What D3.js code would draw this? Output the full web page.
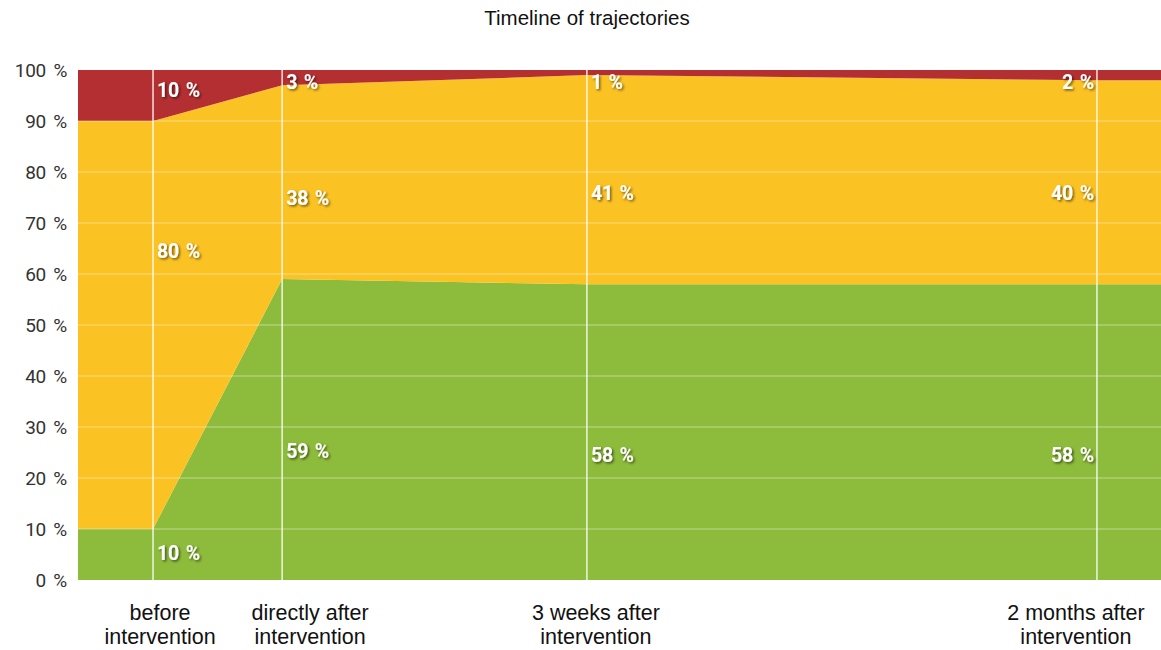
<!DOCTYPE html>
<html lang="en">
<head>
<meta charset="utf-8">
<title>Timeline of trajectories</title>
<script src="https://d3js.org/d3.v7.min.js"></script>
<style>
  body { margin: 0; background: #fff; }
  .tick-y { font-family: Roboto, sans-serif; font-size: 19px; fill: #333; word-spacing: 3px; letter-spacing: -0.3px; }
  .tick-x { font-family: "Liberation Sans", Arial, sans-serif; font-size: 21.5px; fill: #111; }
  .title { font-family: "Liberation Sans", Arial, sans-serif; font-size: 20.5px; fill: #111; }
  .val { font-family: Roboto, sans-serif; font-weight: bold; font-size: 19.5px; fill: #fff; word-spacing: 2px; letter-spacing: -0.2px; }
</style>
</head>
<body>
<script>
// stages and where they sit on the timeline (in stage units)
const stages = ["before\nintervention", "directly after\nintervention", "3 weeks after\nintervention", "2 months after\nintervention"];
const stageAt = [0, 1, 3.36, 7.31];

const green = [10, 59, 58, 58];
const yellow = [80, 38, 41, 40];
const red = [10, 3, 1, 2];

const yTicks = [0, 10, 20, 30, 40, 50, 60, 70, 80, 90, 100];

// where each value label is anchored, in percent
const greenLabelAt = [5.3, 25.3, 24.5, 24.5];
const yellowLabelAt = [64.5, 74.9, 75.9, 75.9];
const redLabelAt = [96, 97.6, 97.6, 97.6];

const width = 1161, height = 650;
const mLeft = 78, mRight = 1161, mTop = 70, mBottom = 580;

const svg = d3.select("body").append("svg")
  .attr("width", width)
  .attr("height", height);

const defs = svg.append("defs");
const f = defs.append("filter").attr("id", "shadow").attr("x", "-20%").attr("y", "-20%").attr("width", "140%").attr("height", "160%");
f.append("feDropShadow").attr("dx", 1.5).attr("dy", 1.5).attr("stdDeviation", 1).attr("flood-color", "#000").attr("flood-opacity", 0.55);

const x = d3.scaleLinear().domain([-0.581, 7.806]).range([mLeft, mRight]);
const y = d3.scaleLinear().domain([0, 100]).range([mBottom, mTop]);

// build table, padded flat to the plot edges
const rows = stages.map((s, i) => ({ t: stageAt[i], green: green[i], yellow: yellow[i], red: red[i] }));
const table = [Object.assign({}, rows[0], { t: x.domain()[0] }), ...rows,
  Object.assign({}, rows[rows.length - 1], { t: x.domain()[1] })];

const keys = ["green", "yellow", "red"];
const colors = { green: "#8dbb3b", yellow: "#fbc224", red: "#b42f31" };
const series = d3.stack().keys(keys)(table);

const area = d3.area()
  .x(d => x(d.data.t))
  .y0(d => y(d[0]))
  .y1(d => y(d[1]));

svg.append("g").selectAll("path")
  .data(series)
  .join("path")
  .attr("d", area)
  .attr("fill", d => colors[d.key]);

// grid
svg.append("g").selectAll("line")
  .data(yTicks.filter(v => v > 0 && v < 100))
  .join("line")
  .attr("x1", mLeft).attr("x2", mRight)
  .attr("y1", d => y(d)).attr("y2", d => y(d))
  .attr("stroke", "#fff").attr("stroke-opacity", 0.45).attr("stroke-width", 1.2);

svg.append("g").selectAll("line")
  .data(stageAt)
  .join("line")
  .attr("x1", d => x(d)).attr("x2", d => x(d))
  .attr("y1", mTop).attr("y2", mBottom)
  .attr("stroke", "#fff").attr("stroke-opacity", 0.85).attr("stroke-width", 1.5);

// y axis
const yAxis = d3.axisLeft(y).tickValues(yTicks).tickSize(0).tickPadding(0).tickFormat(d => d + " %");
const ya = svg.append("g").attr("transform", `translate(${mLeft - 11},0)`).call(yAxis);
ya.select(".domain").remove();
ya.attr("font-size", null).attr("font-family", null);
ya.selectAll("text").attr("class", "tick-y").attr("fill", null);

// x labels
const xOff = [7, 28, 9, -21];
const xl = svg.append("g").selectAll("text")
  .data(stages)
  .join("text")
  .attr("class", "tick-x")
  .attr("text-anchor", "middle")
  .attr("transform", (d, i) => `translate(${x(stageAt[i]) + xOff[i]},620)`);
xl.selectAll("tspan")
  .data(d => d.split("\n"))
  .join("tspan")
  .attr("x", 0)
  .attr("dy", (d, j) => j === 0 ? 0 : 24)
  .text(d => d);

// title
svg.append("text").attr("class", "title")
  .attr("x", 587).attr("y", 25)
  .attr("text-anchor", "middle")
  .text("Timeline of trajectories");

// value labels
const labels = [];
stageAt.forEach((t, i) => {
  labels.push({ t, i, v: green[i], at: greenLabelAt[i] });
  labels.push({ t, i, v: yellow[i], at: yellowLabelAt[i] });
  labels.push({ t, i, v: red[i], at: redLabelAt[i] });
});
const last = stageAt.length - 1;
svg.append("g").selectAll("text")
  .data(labels)
  .join("text")
  .attr("class", "val")
  .attr("filter", "url(#shadow)")
  .attr("x", d => d.i === last ? x(d.t) - 3 : x(d.t) + 4)
  .attr("y", d => y(d.at))
  .attr("dy", "0.36em")
  .attr("text-anchor", d => d.i === last ? "end" : "start")
  .text(d => d.v + " %");
</script>
</body>
</html>
